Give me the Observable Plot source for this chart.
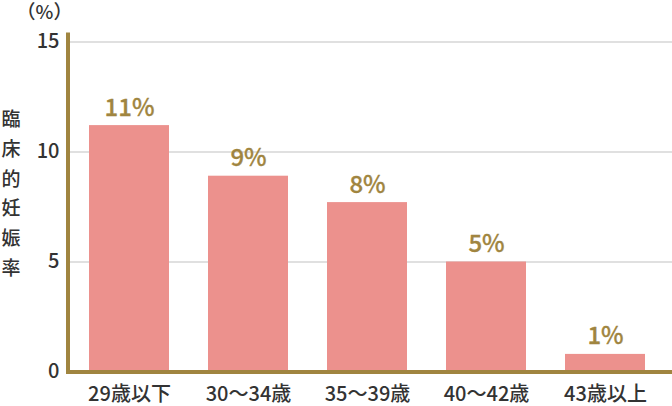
<!DOCTYPE html>
<html>
<head>
<meta charset="utf-8">
<script src="https://cdn.jsdelivr.net/npm/d3@7"></script>
<script src="https://cdn.jsdelivr.net/npm/@observablehq/plot@0.6"></script>
<style>
  html, body { margin: 0; padding: 0; background: #fff; }
</style>
</head>
<body>
<div id="chart"></div>
<script>
const categories = ["29歳以下", "30〜34歳", "35〜39歳", "40〜42歳", "43歳以上"];
const values = [11.2, 8.9, 7.7, 5.0, 0.8];
const valueLabels = ["11%", "9%", "8%", "5%", "1%"];
const yTicks = [0, 5, 10, 15];
const gridValues = [5, 10, 15];
const unitLabel = "（%）";
const yTitle = "臨床的妊娠率";

const data = categories.map((c, i) => ({cat: c, value: values[i], label: valueLabels[i]}));
const gold = "#a08540";

const axisLine = (index, scales, vals, dims) => {
  const x = dims.marginLeft;
  return d3.create("svg:line")
    .attr("x1", x).attr("x2", x)
    .attr("y1", dims.marginTop - 9)
    .attr("y2", dims.height - dims.marginBottom + 2)
    .attr("stroke", gold)
    .attr("stroke-width", 4)
    .node();
};

const chart = Plot.plot({
  width: 672,
  height: 406,
  marginLeft: 68,
  marginRight: 6,
  marginTop: 41.5,
  marginBottom: 34.5,
  style: {fontFamily: "'Noto Sans CJK JP', sans-serif", fontSize: "20px", fontWeight: 500, color: "#333", background: "#fff", overflow: "visible"},
  x: {domain: categories, paddingInner: 0.33, paddingOuter: 0.165, label: null, tickSize: 0, tickPadding: 15},
  y: {domain: [0, 15], ticks: yTicks, label: null, tickSize: 0, tickPadding: 9},
  marks: [
    Plot.ruleY(gridValues, {stroke: "#e0e0e0", strokeWidth: 2, insetLeft: 2, insetRight: -6}),
    Plot.barY(data, {x: "cat", y: "value", fill: "#ec918d"}),
    Plot.ruleY([0], {stroke: gold, strokeWidth: 4, insetLeft: -2, insetRight: -6}),
    axisLine,
    Plot.text(data, {x: "cat", y: "value", text: "label", lineAnchor: "bottom", dy: -10, fill: gold, stroke: gold, strokeWidth: 0.3, fontSize: 24, fontWeight: 500}),
    Plot.text([unitLabel], {frameAnchor: "top-left", text: d => d, textAnchor: "middle", lineAnchor: "middle", dx: -24, dy: -29, fontSize: 19, fill: "#333"}),
    Plot.text([yTitle], {frameAnchor: "left", text: d => d.split("").join("\n"), textAnchor: "middle", lineAnchor: "middle", lineHeight: 1.57, dx: -57.5, dy: -16, fontSize: 19, fill: "#333"})
  ]
});
document.getElementById("chart").appendChild(chart);
</script>
</body>
</html>
